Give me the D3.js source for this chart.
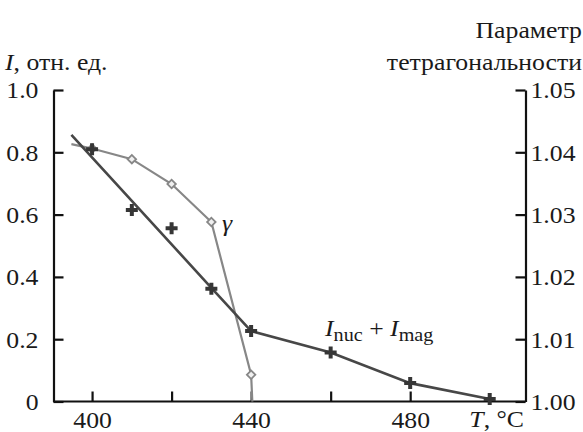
<!DOCTYPE html>
<html>
<head>
<meta charset="utf-8">
<script src="https://cdn.jsdelivr.net/npm/d3@7"></script>
<style>
  html, body { margin: 0; padding: 0; background: #fff; }
</style>
</head>
<body>
<svg id="chart" width="583" height="432"></svg>
<script>
// Temperature of the measurements, °C
const tempI = [400, 410, 420, 430, 440, 460, 480, 500];
// Integrated intensity I_nuc + I_mag, rel. units
const intensity = [0.81, 0.615, 0.556, 0.362, 0.226, 0.157, 0.059, 0.008];
// Guide line drawn through the intensity data
const fitT = [394.8, 430, 440, 460, 480, 500];
const fitI = [0.856, 0.365, 0.226, 0.157, 0.059, 0.008];

// Tetragonality parameter of the γ phase
const tempG = [400, 410, 420, 430, 440];
const tetra = [1.0406, 1.0389, 1.0349, 1.0288, 1.0043];
// Line through the tetragonality points (with ends)
const lineGT = [394.8, 400, 410, 420, 430, 440, 440.3];
const lineGV = [1.0413, 1.0406, 1.0389, 1.0349, 1.0288, 1.0043, 1.0];

const xTicks = [400, 420, 440, 460, 480];
const xLabels = [400, 440, 480];
const yLeftTicks = [0, 0.2, 0.4, 0.6, 0.8, 1.0];
const yRightTicks = [1.00, 1.01, 1.02, 1.03, 1.04, 1.05];

const svg = d3.select("#chart");
const plotL = 53.5, plotR = 525.5, plotT = 90, plotB = 401.5;

const x = d3.scaleLinear().domain([390.3, 509]).range([plotL, plotR]);
const yL = d3.scaleLinear().domain([0, 1]).range([plotB, plotT]);
const yR = d3.scaleLinear().domain([1.00, 1.05]).range([plotB, plotT]);

const fs = 23;          // text size
const sx = 1.12;        // horizontal widening of the serif face
const serif = "Liberation Serif";
const axisColor = "#111";

// Left axis
const gL = svg.append("g").attr("transform", `translate(${plotL},0)`)
  .call(d3.axisLeft(yL).tickValues(yLeftTicks).tickSizeInner(-10).tickSizeOuter(0).tickPadding(15)
    .tickFormat(d => d === 0 ? "0" : d3.format(".1f")(d)));
// Right axis
const gR = svg.append("g").attr("transform", `translate(${plotR},0)`)
  .call(d3.axisRight(yR).tickValues(yRightTicks).tickSizeInner(-10).tickSizeOuter(0).tickPadding(5)
    .tickFormat(d3.format(".2f")));
// Bottom axis
const gB = svg.append("g").attr("transform", `translate(0,${plotB})`)
  .call(d3.axisBottom(x).tickValues(xTicks).tickSizeInner(-10).tickSizeOuter(0).tickPadding(10)
    .tickFormat(d => xLabels.includes(d) ? d : ""));
gB.select(".domain").attr("d", `M${plotL},0H${plotR}`);

[gL, gR, gB].forEach(g => {
  g.attr("font-family", serif).attr("font-size", fs);
  g.select(".domain").attr("stroke", axisColor).attr("stroke-width", 2.2);
  g.selectAll(".tick line").attr("stroke", axisColor).attr("stroke-width", 2.2);
  g.selectAll(".tick text").attr("fill", "#1a1a1a").each(function () {
    const t = d3.select(this);
    const tx = +t.attr("x") || 0, ty = +t.attr("y") || 0;
    t.attr("x", 0).attr("y", 0).attr("transform", `translate(${tx},${ty}) scale(${sx},1)`);
  });
});
gL.selectAll(".tick text").attr("dy", "0.34em");
gR.selectAll(".tick text").attr("dy", "0.34em");
gB.selectAll(".tick text").attr("dy", "0.72em");

// γ tetragonality line
const gray = "#878787";
svg.append("path")
  .datum(d3.range(lineGT.length))
  .attr("fill", "none").attr("stroke", gray).attr("stroke-width", 2.2)
  .attr("d", d3.line().x(i => x(lineGT[i])).y(i => yR(lineGV[i])));

// Intensity guide line
const dark = "#474747";
svg.append("path")
  .datum(d3.range(fitT.length))
  .attr("fill", "none").attr("stroke", dark).attr("stroke-width", 2.6)
  .attr("d", d3.line().x(i => x(fitT[i])).y(i => yL(fitI[i])));

// γ diamonds
svg.append("g").selectAll("path")
  .data(d3.range(tempG.length))
  .join("path")
  .attr("transform", i => `translate(${x(tempG[i])},${yR(tetra[i])}) rotate(45)`)
  .attr("d", d3.symbol(d3.symbolSquare, 36))
  .attr("fill", "#f0f0f0").attr("stroke", gray).attr("stroke-width", 1.8);

// Intensity crosses
svg.append("g").selectAll("path")
  .data(d3.range(tempI.length))
  .join("path")
  .attr("transform", i => `translate(${x(tempI[i])},${yL(intensity[i])})`)
  .attr("d", d3.symbol(d3.symbolCross, 80))
  .attr("fill", "#363636");

// Text labels
function txt(xp, yp, anchor) {
  return svg.append("text")
    .attr("transform", `translate(${xp},${yp}) scale(${sx},1)`)
    .attr("text-anchor", anchor)
    .attr("fill", "#1a1a1a").attr("font-family", serif).attr("font-size", fs);
}
const tI = txt(5, 70, "start");
tI.append("tspan").attr("font-style", "italic").text("I");
tI.append("tspan").text(", отн. ед.");

txt(582, 38, "end").text("Параметр");
txt(582, 70, "end").text("тетрагональности");

const tT = txt(524, 427, "end");
tT.append("tspan").attr("font-style", "italic").text("T");
tT.append("tspan").text(", °C");

txt(222, 231, "start").attr("font-style", "italic").text("γ");

const tS = txt(325, 336, "start");
tS.append("tspan").attr("font-style", "italic").text("I");
tS.append("tspan").attr("dy", 5).attr("font-size", 18).text("nuc");
tS.append("tspan").attr("dy", -5).text(" + ");
tS.append("tspan").attr("font-style", "italic").text("I");
tS.append("tspan").attr("dy", 5).attr("font-size", 18).text("mag");
</script>
</body>
</html>
